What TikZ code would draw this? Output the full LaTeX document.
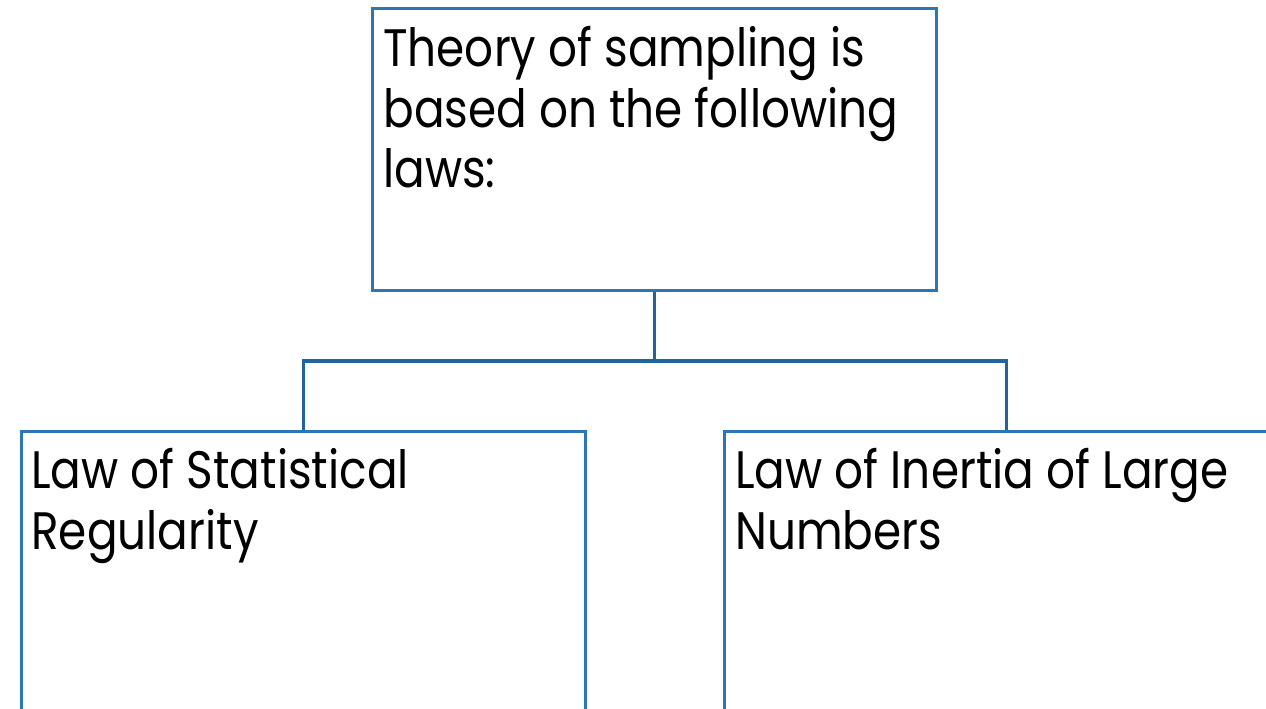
\documentclass[tikz,border=0pt]{standalone}
\usepackage{fontspec}
\setmainfont{Poppins}[FakeStretch=0.86]
\usepackage{tikz}
\definecolor{boxblue}{RGB}{46, 117, 182}
\definecolor{linkblue}{RGB}{34, 100, 158}
\usetikzlibrary{positioning, calc}

\begin{document}
\begin{tikzpicture}[
    x=0.02cm, y=-0.02cm,
    lawbox/.style={draw=boxblue, line width=1.7pt, minimum width=11.28cm,
                   minimum height=5.64cm, anchor=north west, inner sep=0pt},
    lawtext/.style={anchor=north west, align=left, inner sep=0pt,
                    font=\fontsize{30}{34.5}\selectfont},
    link/.style={draw=linkblue, line width=1.8pt}
]
    \useasboundingbox (0,0) rectangle (1266,708);
    \clip (0,0) rectangle (1266,708);

    % Boxes
    \node[lawbox] (theory) at (371,7) {};
    \node[lawbox] (regularity) at (20,430) {};
    \node[lawbox] (inertia) at (723,430) {};

    % Texts
    \node[lawtext] (theorytext) at ([shift={(12,19)}]theory.north west)
        {Theory of sampling is\\based on the following\\laws:};
    \node[lawtext] (regularitytext) at ([shift={(11,18)}]regularity.north west)
        {Law of Statistical\\Regularity};
    \node[lawtext] (inertiatext) at ([shift={(12,18)}]inertia.north west)
        {Law of Inertia of Large\\Numbers};

    % Connecting lines
    \coordinate (hub) at ($(theory.south)+(0,69)$);
    \draw[link] (theory.south) -- (hub);
    \draw[link] (hub) -| (regularity.north);
    \draw[link] (hub) -| (inertia.north);
\end{tikzpicture}
\end{document}
